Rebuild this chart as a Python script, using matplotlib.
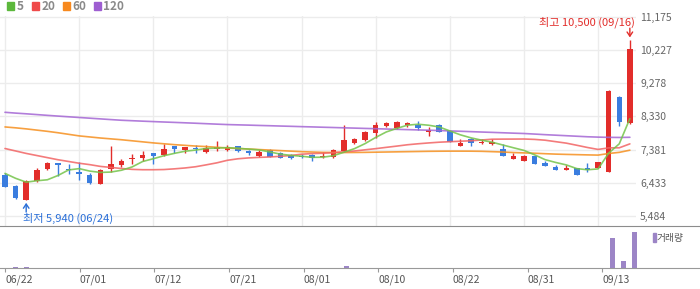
import matplotlib
matplotlib.use('Agg')
import matplotlib.pyplot as plt
from matplotlib.patches import Rectangle
import numpy as np

plt.rcParams['font.family'] = ['Noto Sans CJK KR', 'DejaVu Sans']

W, H = 700, 289

dates = ['06/22', '06/23', '06/24', '06/27', '06/28', '06/29', '06/30', '07/01', '07/04', '07/05',
         '07/06', '07/07', '07/08', '07/11', '07/12', '07/13', '07/14', '07/15', '07/18', '07/19',
         '07/20', '07/21', '07/22', '07/25', '07/26', '07/27', '07/28', '07/29', '08/01', '08/02',
         '08/03', '08/04', '08/05', '08/08', '08/09', '08/10', '08/11', '08/12', '08/16', '08/17',
         '08/18', '08/19', '08/22', '08/23', '08/24', '08/25', '08/26', '08/29', '08/30', '08/31',
         '09/01', '09/02', '09/05', '09/06', '09/07', '09/08', '09/13', '09/14', '09/15', '09/16']

opens = [6650, 6340, 5950, 6470, 6830, 6990, 6830, 6730, 6660, 6400,
         6820, 6950, 7110, 7130, 7270, 7220, 7490, 7380, 7420, 7300,
         7410, 7380, 7480, 7340, 7190, 7380, 7290, 7220, 7200, 7220,
         7160, 7170, 7330, 7570, 7650, 7850, 8040, 8000, 8070, 8090,
         7890, 8090, 7900, 7480, 7690, 7570, 7550, 7410, 7110, 7060,
         7190, 7000, 6890, 6800, 6850, 6860, 6840, 6740, 8880, 8150]
highs = [6720, 6370, 6510, 6840, 7030, 6990, 6960, 7030, 6700, 6820,
         7480, 7100, 7250, 7330, 7280, 7550, 7490, 7460, 7500, 7500,
         7630, 7500, 7490, 7380, 7360, 7390, 7310, 7250, 7240, 7240,
         7300, 7390, 8070, 7700, 7900, 8170, 8160, 8190, 8170, 8190,
         8030, 8100, 7900, 7690, 7710, 7670, 7670, 7550, 7290, 7220,
         7190, 7060, 6930, 6950, 6860, 7000, 7030, 9090, 8900, 10500]
lows = [6310, 5980, 5940, 6460, 6810, 6630, 6680, 6510, 6390, 6390,
        6730, 6890, 6980, 7050, 6980, 7200, 7270, 7270, 7290, 7290,
        7340, 7340, 7310, 7220, 7170, 7160, 7140, 7110, 7150, 7060,
        7150, 7150, 7310, 7550, 7630, 7710, 8030, 7980, 8010, 7930,
        7770, 7870, 7600, 7480, 7480, 7530, 7500, 7200, 7110, 7060,
        6970, 6910, 6800, 6790, 6660, 6730, 6840, 6740, 8050, 8100]
closes = [6320, 6000, 6480, 6790, 7000, 6930, 6790, 6670, 6440, 6810,
          6980, 7050, 7140, 7220, 7200, 7410, 7390, 7440, 7390, 7430,
          7460, 7460, 7330, 7290, 7310, 7170, 7150, 7150, 7170, 7150,
          7190, 7360, 7650, 7680, 7870, 8070, 8140, 8160, 8140, 8000,
          7930, 7890, 7600, 7580, 7570, 7600, 7600, 7200, 7190, 7190,
          6970, 6910, 6800, 6840, 6660, 6810, 7030, 9050, 8170, 10250]
volumes = [30000, 100000, 110000, 25000, 20000, 18000, 15000, 22000, 16000, 14000,
           28000, 15000, 12000, 14000, 11000, 16000, 12000, 10000, 11000, 9000,
           12000, 10000, 9000, 8000, 9000, 11000, 8000, 7000, 8000, 9000,
           10000, 18000, 220000, 30000, 25000, 28000, 22000, 20000, 18000, 20000,
           18000, 16000, 20000, 14000, 12000, 10000, 9000, 15000, 12000, 10000,
           13000, 11000, 12000, 9000, 14000, 10000, 16000, 3000000, 700000, 3600000]

ma5 = [6700, 6560, 6450, 6490, 6518, 6640, 6798, 6836, 6766, 6728,
       6738, 6790, 6884, 7040, 7118, 7204, 7272, 7332, 7366, 7412,
       7422, 7436, 7414, 7394, 7370, 7312, 7250, 7214, 7190, 7158,
       7162, 7204, 7304, 7406, 7550, 7726, 7882, 7984, 8076, 8102,
       8074, 8024, 7912, 7800, 7714, 7648, 7590, 7510, 7432, 7356,
       7230, 7092, 7012, 6942, 6836, 6804, 6828, 7278, 7544, 8262]
ma20 = [7410, 7340, 7270, 7210, 7150, 7090, 7040, 6990, 6950, 6900,
        6870, 6840, 6815, 6805, 6805, 6810, 6830, 6855, 6890, 6944,
        7001, 7074, 7117, 7142, 7157, 7169, 7187, 7211, 7248, 7265,
        7275, 7291, 7316, 7339, 7373, 7406, 7443, 7479, 7517, 7545,
        7569, 7590, 7604, 7618, 7631, 7653, 7675, 7678, 7679, 7681,
        7670, 7647, 7605, 7563, 7502, 7439, 7384, 7428, 7430, 7542]
ma60 = [8025, 8000, 7970, 7935, 7900, 7860, 7815, 7770, 7740, 7710,
        7685, 7660, 7630, 7600, 7570, 7545, 7520, 7500, 7480, 7465,
        7445, 7425, 7410, 7395, 7380, 7365, 7350, 7335, 7320, 7310,
        7300, 7297, 7295, 7297, 7300, 7305, 7310, 7315, 7320, 7325,
        7330, 7333, 7335, 7335, 7334, 7330, 7320, 7310, 7295, 7285,
        7275, 7262, 7250, 7242, 7235, 7228, 7222, 7268, 7300, 7362]
ma120 = [8443, 8420, 8400, 8378, 8356, 8335, 8315, 8295, 8275, 8255,
         8235, 8216, 8203, 8190, 8178, 8166, 8155, 8143, 8131, 8118,
         8105, 8093, 8085, 8077, 8068, 8060, 8051, 8043, 8034, 8026,
         8017, 8009, 8000, 7992, 7983, 7975, 7966, 7957, 7949, 7940,
         7932, 7923, 7912, 7902, 7891, 7880, 7870, 7859, 7848, 7838,
         7822, 7805, 7790, 7775, 7760, 7745, 7735, 7728, 7725, 7730]

price_ticks = [5484, 6433, 7381, 8330, 9278, 10227, 11175]
ma_names = ['5', '20', '60', '120']

RED = '#e22d2a'
BLUE = '#3a7ddf'
MA_COLORS = ['#74c44a', '#f26464', '#f6901f', '#a466d4']
LEG_COLORS = ['#5cb83c', '#ef4a4a', '#f7891e', '#9e5ed1']
VOL = '#9c85c6'

x = np.arange(len(dates))
o = np.array(opens)
c = np.array(closes)

fig = plt.figure(figsize=(W / 100, H / 100), dpi=100)
ax = fig.add_axes([0, 1 - 226 / H, 636 / W, 210 / H])
axv = fig.add_axes([0, 21 / H, 1, 42 / H])

# price panel
ax.set_xlim(-0.472, 59.58)
ax.set_ylim(5199.5, 11190)
ax.set_xticks(x[::7])
ax.set_yticks(price_ticks)
ax.set_yticklabels([f'{v:,}' for v in price_ticks])
ax.yaxis.tick_right()
ax.grid(color='#ececec', lw=1, zorder=0)
ax.tick_params(length=0, labelbottom=False)
ax.tick_params(axis='y', pad=3, labelsize=7.5, labelcolor='#666666')
for s in ax.spines.values():
    s.set_visible(False)

colors = np.where(c >= o, RED, BLUE)
ax.vlines(x, lows, highs, colors=colors, lw=1, zorder=2)
body = np.maximum(np.abs(c - o), 28)
ax.bar(x, body, width=0.52, bottom=np.minimum(o, c), color=colors, lw=0, zorder=3)

for ma, col in zip([ma120, ma60, ma20, ma5], MA_COLORS[::-1]):
    ax.plot(x, ma, color=col, lw=1.2, alpha=0.85, zorder=4, solid_capstyle='round')

# high / low markers
hi = int(np.argmax(highs))
lo = int(np.argmin(lows))
ax.annotate('', xy=(hi, highs[hi]), xytext=(0, 12), textcoords='offset pixels',
            arrowprops=dict(arrowstyle='->,head_length=0.3,head_width=0.2', color=RED, lw=1,
                            shrinkA=0, shrinkB=2))
ax.annotate(f'최고 {highs[hi]:,} ({dates[hi]})', xy=(hi, highs[hi]), xytext=(5, 18),
            textcoords='offset pixels', ha='right', va='center', color=RED, fontsize=8)
ax.annotate('', xy=(lo, lows[lo]), xytext=(0, -12), textcoords='offset pixels',
            arrowprops=dict(arrowstyle='->,head_length=0.3,head_width=0.2', color='#2a6fd8', lw=1,
                            shrinkA=0, shrinkB=2))
ax.annotate(f'최저 {lows[lo]:,} ({dates[lo]})', xy=(lo, lows[lo]), xytext=(-3.5, -18),
            textcoords='offset pixels', ha='left', va='center', color='#2a6fd8', fontsize=8)

# volume panel
axv.bar(x, volumes, width=0.47, color=VOL, lw=0)
axv.set_xlim(-0.472, 65.16)
axv.set_ylim(0, 4200000)
axv.set_yticks([])
axv.set_xticks(x[::7])
axv.set_xticklabels(dates[::7], ha='left')
axv.tick_params(axis='x', length=3, color='#999999', pad=1.5, labelsize=7.5, labelcolor='#555555')
axv.spines['left'].set_visible(False)
axv.spines['right'].set_visible(False)
axv.spines['top'].set_color('#8c8c8c')
axv.spines['bottom'].set_color('#999999')
axv.set_facecolor('none')

fig.patches.append(Rectangle((653 / W, 1 - 242 / H), 2.5 / W, 9 / H, color=VOL,
                             transform=fig.transFigure, figure=fig))
fig.text(657 / W, 1 - 237.5 / H, '거래량', fontsize=7, color='#555555', va='center')

# MA legend
leg_x = [7, 32, 63, 94]
for name, col, lx in zip(ma_names, LEG_COLORS, leg_x):
    fig.patches.append(Rectangle((lx / W, 1 - 9.5 / H), 7 / W, 7 / H, color=col,
                                 transform=fig.transFigure, figure=fig))
    fig.text((lx + 9.5) / W, 1 - 6.2 / H, name, fontsize=8.5, fontweight='bold',
             color='#8a8a8a', va='center')

fig.savefig('out.png', dpi=100)
